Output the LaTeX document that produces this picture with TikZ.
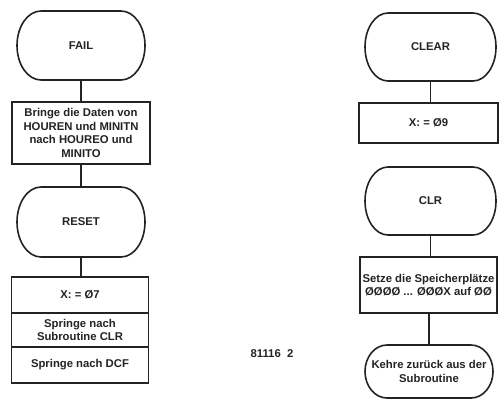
\documentclass[tikz,border=0pt]{standalone}
\usepackage{fontspec}
\setmainfont{Liberation Sans}
\definecolor{ink}{RGB}{35,35,35}
\newcommand\stadium[3]{%
  \draw[shapeline] ([xshift=#2]#1.north west) -- ([xshift=-#2]#1.north east)
    arc[start angle=90,end angle=-90,x radius=#2,y radius=#3]
    -- ([xshift=#2]#1.south west)
    arc[start angle=270,end angle=90,x radius=#2,y radius=#3] -- cycle;}
\begin{document}
\begin{tikzpicture}[x=1pt,y=1pt,
  shapeline/.style={draw=ink,line width=1.6pt,line join=round},
  term/.style={inner sep=0pt,outer sep=0pt,align=center,text=ink,
    font=\fontsize{11.3pt}{13.5pt}\selectfont\bfseries},
  procbox/.style={draw=ink,line width=1.6pt,inner sep=0pt,outer sep=0pt,
    align=center,text=ink,font=\fontsize{11.3pt}{13.5pt}\selectfont\bfseries},
  conn/.style={draw=ink,line width=1.3pt}]
\useasboundingbox[fill=white] (0,0) rectangle (502,400);
% left column
\node[term,minimum width=128pt,minimum height=69pt] (fail) at (81,354.5) {FAIL};
\stadium{fail}{24pt}{34.5pt}
\node[procbox,minimum width=138pt,minimum height=62pt] (bring) at (81,267)
  {Bringe die Daten von\\HOUREN und MINITN\\nach HOUREO und\\MINITO};
\node[term,minimum width=128pt,minimum height=70pt] (reset) at (81,178) {RESET};
\stadium{reset}{24pt}{35pt}
\node[procbox,minimum width=137pt,minimum height=36pt] (xseven) at (80,105) {X: = Ø7};
\node[procbox,minimum width=137pt,minimum height=34pt,anchor=north] (jclr) at (xseven.south) {Springe nach\\Subroutine CLR};
\node[procbox,minimum width=137pt,minimum height=36pt,anchor=north] (jdcf) at (jclr.south) {Springe nach DCF};
\draw[conn] (fail) -- (bring);
\draw[conn] (bring) -- (reset);
\draw[conn] (reset.south) -- (reset.south |- xseven.north);
% right column
\node[term,minimum width=131pt,minimum height=68pt] (clear) at (430.5,353) {CLEAR};
\stadium{clear}{23pt}{34pt}
\node[procbox,minimum width=139pt,minimum height=40pt] (xnine) at (428.5,277) {X: = Ø9};
\node[term,minimum width=131pt,minimum height=68pt] (clr) at (430.5,199) {CLR};
\stadium{clr}{23pt}{34pt}
\node[procbox,minimum width=137pt,minimum height=56pt] (setze) at (428.5,115)
  {Setze die Speicherplätze\\ØØØØ ... ØØØX auf ØØ};
\node[term,minimum width=128pt,minimum height=53pt] (kehre) at (429,28.5)
  {Kehre zurück aus der\\Subroutine};
\stadium{kehre}{22pt}{26.5pt}
\draw[conn] (clear.south) -- (clear.south |- xnine.north);
\draw[conn] (xnine.south) -- (xnine.south -| clr.north);
\draw[conn] (clr.south) -- (clr.south |- setze.north);
\draw[conn] (setze.south -| kehre.north) -- (kehre.north);
% figure number
\node[text=ink,font=\fontsize{11.3pt}{13pt}\selectfont\bfseries,inner sep=0pt] (fignum) at (272,46) {81116\ \ 2};
\end{tikzpicture}
\end{document}
